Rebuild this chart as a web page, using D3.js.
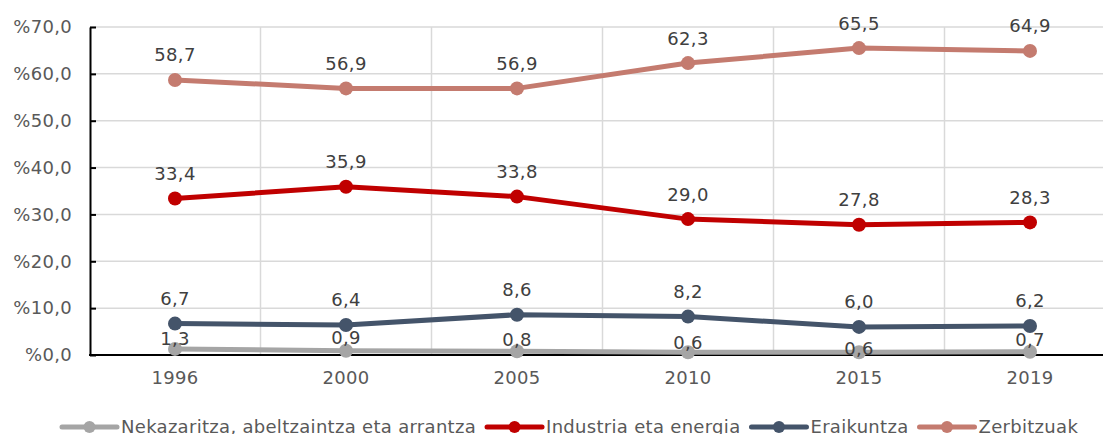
<!DOCTYPE html>
<html>
<head>
<meta charset="utf-8">
<script src="https://cdn.jsdelivr.net/npm/d3@7"></script>
<style>
  body { margin: 0; background: #fff; }
  svg { display: block; font-family: "DejaVu Sans", Verdana, sans-serif; }
  text { letter-spacing: 0.3px; }
</style>
</head>
<body>
<div id="chart"></div>
<script>
const years = ["1996", "2000", "2005", "2010", "2015", "2019"];
const nekazaritza = [1.3, 0.9, 0.8, 0.6, 0.6, 0.7];
const industria = [33.4, 35.9, 33.8, 29.0, 27.8, 28.3];
const eraikuntza = [6.7, 6.4, 8.6, 8.2, 6.0, 6.2];
const zerbitzuak = [58.7, 56.9, 56.9, 62.3, 65.5, 64.9];
const seriesNames = ["Nekazaritza, abeltzaintza eta arrantza", "Industria eta energia", "Eraikuntza", "Zerbitzuak"];
const yTicks = [0, 10, 20, 30, 40, 50, 60, 70];

const w = 1103, h = 434;
const colors = ["#A5A5A5", "#C00000", "#44546A", "#C47B6F"];
const series = [nekazaritza, industria, eraikuntza, zerbitzuak].map((v, i) => ({name: seriesNames[i], values: v, color: colors[i]}));

const fmt = v => v.toFixed(1).replace(".", ",");

const svg = d3.select("#chart").append("svg")
  .attr("width", w).attr("height", h);

const x = d3.scaleBand().domain(years).range([89.5, 1115.5]);
const y = d3.scaleLinear().domain([0, 70]).range([355, 27]);
const cx = d => x(d) + x.bandwidth() / 2;

// gridlines
svg.append("g").selectAll("line.h")
  .data(yTicks.slice(1)).enter().append("line")
  .attr("x1", 90).attr("x2", w)
  .attr("y1", d => y(d)).attr("y2", d => y(d))
  .attr("stroke", "#D9D9D9").attr("stroke-width", 1.5);
svg.append("g").selectAll("line.v")
  .data(years.slice(1)).enter().append("line")
  .attr("x1", d => x(d)).attr("x2", d => x(d))
  .attr("y1", y(70)).attr("y2", y(0))
  .attr("stroke", "#D9D9D9").attr("stroke-width", 1.5);

// y axis
const yAxis = svg.append("g")
  .attr("transform", "translate(90,0)")
  .call(d3.axisLeft(y).tickValues(yTicks).tickSizeInner(-6).tickSizeOuter(0).tickPadding(18)
    .tickFormat(d => "%" + fmt(d)));
yAxis.select(".domain").attr("stroke", "#000").attr("stroke-width", 2);
yAxis.selectAll(".tick line").attr("stroke", "#000").attr("stroke-width", 2);
yAxis.selectAll("text").attr("fill", "#595959").style("font-size", "18px")
  .style("font-family", "DejaVu Sans");

// x axis
const xAxis = svg.append("g")
  .attr("transform", "translate(0,355)")
  .call(d3.axisBottom(x).tickSize(0).tickPadding(16));
xAxis.select(".domain").remove();
xAxis.selectAll("text").attr("fill", "#595959").style("font-size", "18px")
  .style("font-family", "DejaVu Sans");
svg.append("line").attr("x1", 89).attr("x2", w).attr("y1", 355).attr("y2", 355)
  .attr("stroke", "#000").attr("stroke-width", 2);

// lines
const line = d3.line().x((d, i) => cx(years[i])).y(d => y(d));
const greyLabelDy = [-10, -13, -12, -10, -4, -12];

series.forEach((s, si) => {
  const g = svg.append("g");
  g.append("path").datum(s.values)
    .attr("d", line).attr("fill", "none")
    .attr("stroke", s.color).attr("stroke-width", 5).attr("stroke-linejoin", "round");
  g.selectAll("circle").data(s.values).enter().append("circle")
    .attr("cx", (d, i) => cx(years[i])).attr("cy", d => y(d)).attr("r", 7)
    .attr("fill", s.color);
  g.selectAll("text").data(s.values).enter().append("text")
    .attr("x", (d, i) => cx(years[i]))
    .attr("y", (d, i) => y(d) + (si === 0 ? greyLabelDy[i] : -25))
    .attr("dy", "0.36em")
    .attr("text-anchor", "middle")
    .attr("fill", "#404040").style("font-size", "18px")
    .text(d => fmt(d));
});

// legend (cut off by the bottom edge, as in the original)
const legend = svg.append("g").attr("transform", "translate(0,427)");
let lx = 62;
series.forEach(s => {
  const item = legend.append("g");
  item.append("line").attr("x1", lx).attr("x2", lx + 55).attr("y1", 0).attr("y2", 0)
    .attr("stroke", s.color).attr("stroke-width", 5).attr("stroke-linecap", "round");
  item.append("circle").attr("cx", lx + 27.5).attr("cy", 0).attr("r", 6).attr("fill", s.color);
  const t = item.append("text").attr("x", lx + 59).attr("y", 0).attr("dy", "0.36em")
    .attr("fill", "#595959").style("font-size", "18px").text(s.name);
  lx += 59 + t.node().getComputedTextLength() + 11;
});
</script>
</body>
</html>
